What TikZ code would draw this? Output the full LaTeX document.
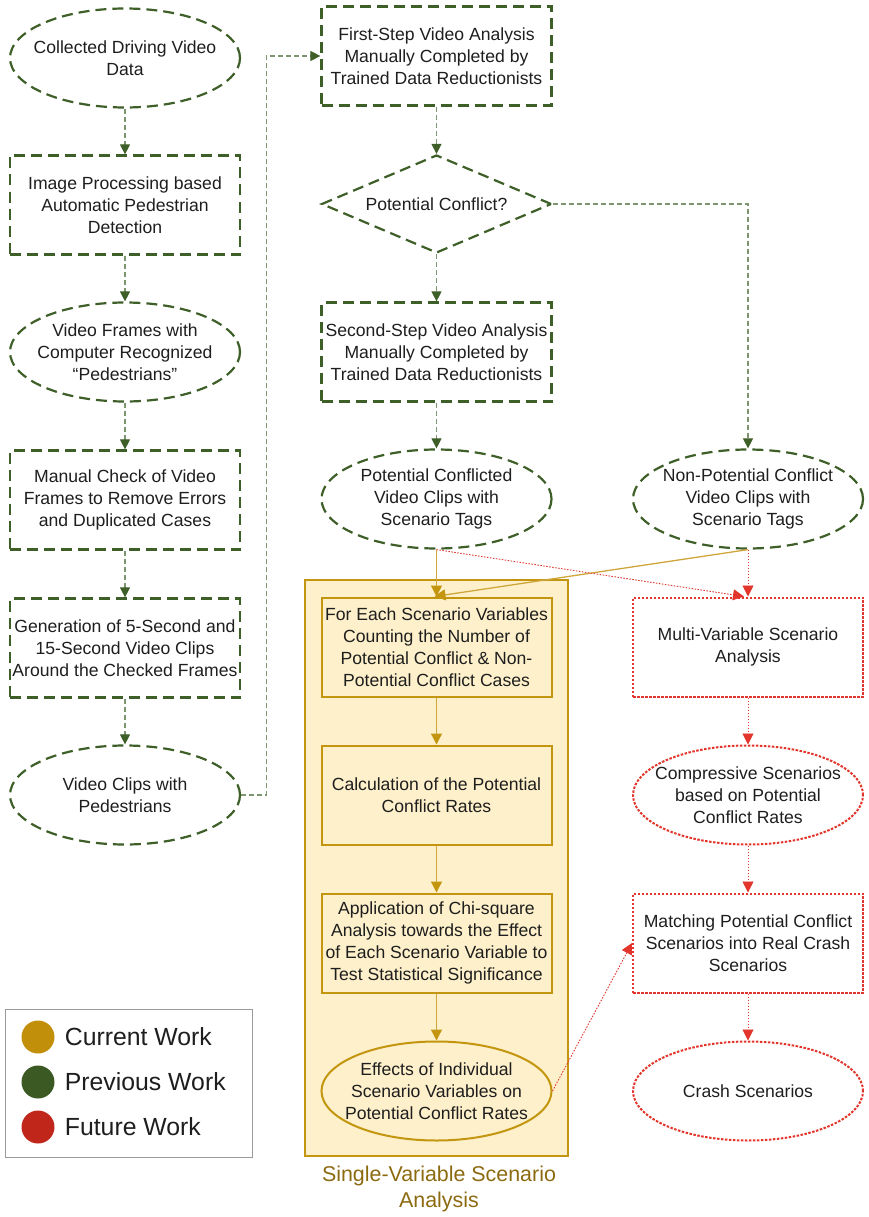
\documentclass[tikz,border=0pt]{standalone}
\usepackage{fontspec}
\setmainfont{Liberation Sans}
\usepackage{tikz}
\usetikzlibrary{arrows.meta,positioning,shapes.geometric}
\definecolor{prevwork}{HTML}{3E5F28}
\definecolor{prevline}{HTML}{7D9670}
\definecolor{curwork}{HTML}{C4960F}
\definecolor{curfill}{HTML}{FDF0CA}
\definecolor{curline}{HTML}{D0A63C}
\definecolor{futwork}{HTML}{E2352B}
\definecolor{labgold}{HTML}{8C6A10}
\definecolor{ink}{HTML}{1E1E1E}
\definecolor{legframe}{HTML}{9A9A9A}
\definecolor{legcur}{HTML}{C28F0A}
\definecolor{legprev}{HTML}{3B5A23}
\definecolor{legfut}{HTML}{C1261A}
\tikzset{
  boxtext/.style={font=\fontsize{17.6}{22}\selectfont, text=ink, align=center,
                  minimum width=230pt, minimum height=99pt, inner sep=0pt},
  prevbox/.style={boxtext, draw=prevwork, line width=2.2pt, dash pattern=on 11pt off 6pt},
  prevoval/.style={prevbox, ellipse, inner xsep=-20pt},
  prevdiam/.style={prevbox, diamond, aspect=2.35, minimum height=98pt},
  curbox/.style={boxtext, draw=curwork, fill=curfill, line width=2pt},
  curoval/.style={curbox, ellipse, inner xsep=-20pt},
  futbox/.style={boxtext, draw=futwork, line width=2pt, dash pattern=on 2.5pt off 1.5pt},
  futoval/.style={futbox, ellipse, inner xsep=-20pt},
  prevarrow/.style={draw=prevline, line width=1.1pt, dash pattern=on 5pt off 3pt,
                    -{Triangle[length=10pt,width=10pt,color=prevwork]}},
  curarrow/.style={draw=curline, line width=1.3pt,
                   -{Triangle[length=11pt,width=11pt,color=curwork]}},
  futarrow/.style={draw=futwork, line width=0.9pt, dash pattern=on 1.5pt off 1.5pt,
                   -{Triangle[length=11pt,width=11pt,color=futwork]}},
  groupbox/.style={draw=curwork, fill=curfill, line width=2.2pt,
                   minimum width=263pt, minimum height=576pt, inner sep=0pt},
  grouplab/.style={font=\fontsize{21.4}{26}\selectfont, text=labgold, align=center},
  legbox/.style={draw=legframe, line width=1pt, fill=white,
                 minimum width=247pt, minimum height=148pt, inner sep=0pt},
  legdot/.style={circle, minimum size=33pt, inner sep=0pt},
  legtext/.style={font=\fontsize{24.8}{28}\selectfont, text=ink, inner sep=0pt, anchor=west}
}

\begin{document}
\begin{tikzpicture}[x=1pt,y=-1pt]
  \useasboundingbox (0,0) rectangle (868,1217);
  % single-variable group behind its boxes
  \node[groupbox] (svsa) at (436.5,868) {};
  \node[grouplab] (svsalab) at (439,1189) {Single-Variable Scenario\\Analysis};

  % previous work, left column
  \node[prevoval] (collect) at (125,58) {Collected Driving Video\\Data};
  \node[prevbox] (imgproc) at (125,205) {Image Processing based\\Automatic Pedestrian\\Detection};
  \node[prevoval] (frames) at (125,352) {Video Frames with\\Computer Recognized\\“Pedestrians”};
  \node[prevbox] (mancheck) at (125,500) {Manual Check of Video\\Frames to Remove Errors\\and Duplicated Cases};
  \node[prevbox] (genclips) at (125,648) {Generation of 5-Second and\\15-Second Video Clips\\Around the Checked Frames};
  \node[prevoval] (pedclips) at (125,795) {Video Clips with\\Pedestrians};

  % previous work, middle column
  \node[prevbox] (firststep) at (436.5,56) {First-Step Video Analysis\\Manually Completed by\\Trained Data Reductionists};
  \node[prevdiam] (conflict) at (436.5,204) {Potential Conflict?};
  \node[prevbox] (secondstep) at (436.5,352) {Second-Step Video Analysis\\Manually Completed by\\Trained Data Reductionists};
  \node[prevoval] (pcclips) at (436.5,499) {Potential Conflicted\\Video Clips with\\Scenario Tags};
  \node[prevoval] (npcclips) at (748,499) {Non-Potential Conflict\\Video Clips with\\Scenario Tags};

  % current work
  \node[curbox] (counting) at (436.5,647) {For Each Scenario Variables\\Counting the Number of\\Potential Conflict \& Non-\\Potential Conflict Cases};
  \node[curbox] (rates) at (436.5,795) {Calculation of the Potential\\Conflict Rates};
  \node[curbox] (chisq) at (436.5,943) {Application of Chi-square\\Analysis towards the Effect\\of Each Scenario Variable to\\Test Statistical Significance};
  \node[curoval] (effects) at (436.5,1091) {Effects of Individual\\Scenario Variables on\\Potential Conflict Rates};

  % future work
  \node[futbox] (multivar) at (748,647) {Multi-Variable Scenario\\Analysis};
  \node[futoval] (compress) at (748,795) {Compressive Scenarios\\based on Potential\\Conflict Rates};
  \node[futbox] (matching) at (748,943) {Matching Potential Conflict\\Scenarios into Real Crash\\Scenarios};
  \node[futoval] (crash) at (748,1091) {Crash Scenarios};

  % connectors
  \draw[prevarrow] (collect) -- (imgproc);
  \draw[prevarrow] (imgproc) -- (frames);
  \draw[prevarrow] (frames) -- (mancheck);
  \draw[prevarrow] (mancheck) -- (genclips);
  \draw[prevarrow] (genclips) -- (pedclips);
  \draw[prevarrow] (pedclips.east) -- ++(25,0) |- (firststep.west);
  \draw[prevarrow] (firststep) -- (conflict);
  \draw[prevarrow] (conflict) -- (secondstep);
  \draw[prevarrow] (conflict.east) -| (npcclips.north);
  \draw[prevarrow] (secondstep) -- (pcclips);

  \draw[curarrow] (pcclips.south) -- (counting.north);
  \draw[curarrow] (npcclips.south) -- ([xshift=-2pt]counting.north);
  \draw[curarrow] (counting) -- (rates);
  \draw[curarrow] (rates) -- (chisq);
  \draw[curarrow] (chisq) -- (effects);

  \draw[futarrow] (pcclips.south) -- ([xshift=-4pt]multivar.north);
  \draw[futarrow] (npcclips.south) -- (multivar.north);
  \draw[futarrow] (multivar) -- (compress);
  \draw[futarrow] (compress) -- (matching);
  \draw[futarrow] (matching) -- (crash);
  \draw[futarrow] (effects.east) -- (matching.west);

  % legend
  \node[legbox] (legend) at (128.5,1083) {};
  \foreach \y/\c/\lab/\n in {1037/legcur/Current Work/cur,1082/legprev/Previous Work/prev,1127/legfut/Future Work/fut} {
    \node[legdot,fill=\c] (dot\n) at (38,\y) {};
    \node[legtext,right=10pt of dot\n] (leg\n) {\lab};
  }
\end{tikzpicture}
\end{document}
